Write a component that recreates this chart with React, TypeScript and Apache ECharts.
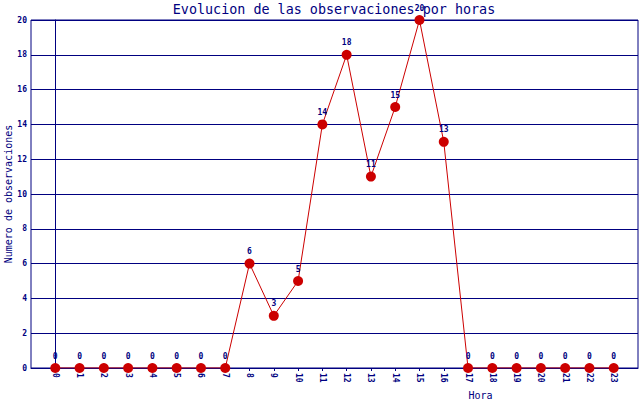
import React, { useEffect, useRef } from "react";
import * as echarts from "echarts";

const hours = [0, 1, 2, 3, 4, 5, 6, 7, 8, 9, 10, 11, 12, 13, 14, 15, 16, 17, 18, 19, 20, 21, 22, 23];
const observations = [0, 0, 0, 0, 0, 0, 0, 0, 6, 3, 5, 14, 18, 11, 15, 20, 13, 0, 0, 0, 0, 0, 0, 0];
const yTicks = [0, 2, 4, 6, 8, 10, 12, 14, 16, 18, 20];

const NAVY = "#000080";
const RED = "#cc0000";
const FONT = "DejaVu Sans Mono";

export default function App() {
  const ref = useRef<HTMLDivElement>(null);
  useEffect(() => {
    if (!ref.current) return;
    const chart = echarts.init(ref.current, undefined, { renderer: "svg" });
    chart.setOption({
      animation: false,
      backgroundColor: "#ffffff",
      title: {
        text: "Evolucion de las observaciones por horas",
        left: 334,
        textAlign: "center",
        top: 3,
        padding: 0,
        textStyle: { color: NAVY, fontFamily: FONT, fontSize: 13.4, fontWeight: "normal" },
      },
      grid: {
        left: 31,
        top: 20,
        right: 2,
        bottom: 32,
        containLabel: false,
        outerBoundsMode: "none",
        show: true,
        borderColor: NAVY,
        borderWidth: 1,
        backgroundColor: "#ffffff",
      },
      xAxis: {
        type: "value",
        min: -1,
        max: 24,
        interval: 1,
        name: "Hora",
        nameLocation: "middle",
        nameGap: 22,
        nameMoveOverlap: false,
        nameTextStyle: { color: NAVY, fontFamily: FONT, fontSize: 10, padding: [0, 0, 0, 292] },
        axisLine: { show: true, lineStyle: { color: NAVY, width: 1 } },
        axisTick: { show: true, length: 3, lineStyle: { color: NAVY }, customValues: hours },
        splitLine: { show: false },
        axisLabel: {
          color: NAVY,
          fontFamily: FONT,
          fontSize: 8,
          fontWeight: "bold",
          rotate: -90,
          margin: 5,
          customValues: hours,
          formatter: (v: number) => (v < 0 || v > 23 ? "" : String(v)),
        },
      },
      yAxis: {
        type: "value",
        min: 0,
        max: 20,
        interval: 2,
        name: "Numero de observaciones",
        nameLocation: "middle",
        nameGap: 18,
        nameMoveOverlap: false,
        nameRotate: 90,
        nameTextStyle: { color: NAVY, fontFamily: FONT, fontSize: 10 },
        axisLine: { show: true, lineStyle: { color: NAVY, width: 1 } },
        axisTick: { show: false },
        splitLine: { show: true, lineStyle: { color: NAVY, width: 1 } },
        axisLabel: {
          color: NAVY,
          fontFamily: FONT,
          fontSize: 8,
          fontWeight: "bold",
          margin: 4,
          customValues: yTicks,
        },
      },
      series: [
        {
          type: "line",
          data: hours.map((h, i) => [h, observations[i]]),
          symbol: "circle",
          symbolSize: 10,
          itemStyle: { color: RED },
          lineStyle: { color: RED, width: 1 },
          label: {
            show: true,
            position: "top",
            distance: 3,
            color: NAVY,
            fontFamily: FONT,
            fontSize: 8,
            fontWeight: "bold",
            formatter: (p: any) => String(p.value[1]),
          },
        },
      ],
    });
    return () => chart.dispose();
  }, []);
  return (
    <div
      ref={ref}
      style={{ position: "fixed", left: 0, top: 0, width: 640, height: 400 }}
    />
  );
}
